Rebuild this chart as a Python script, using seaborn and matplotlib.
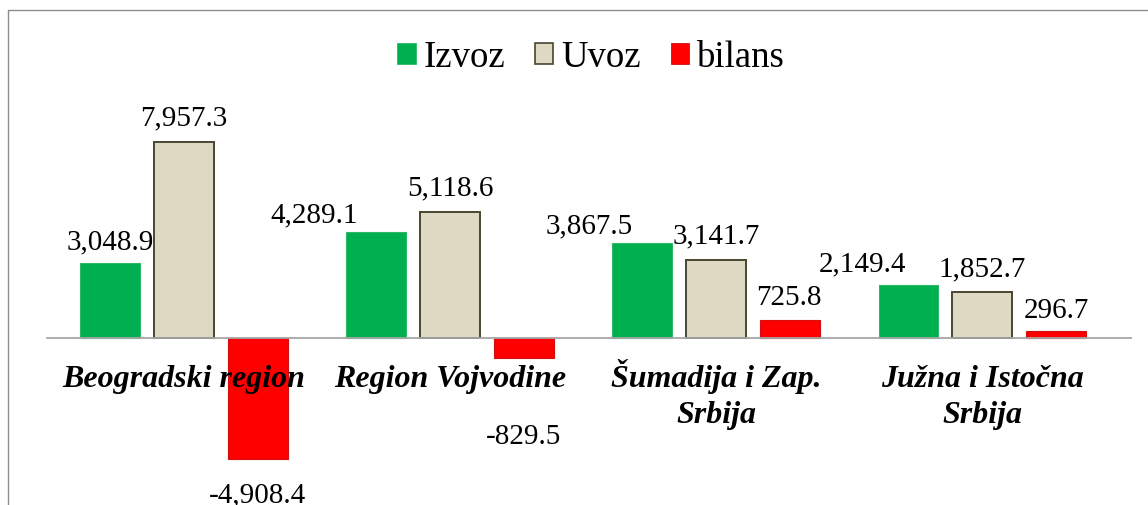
import matplotlib
matplotlib.use("Agg")
import matplotlib.pyplot as plt
import seaborn as sns
import pandas as pd
from matplotlib.patches import Rectangle, Patch
from matplotlib.transforms import offset_copy

# ---- data ----
categories = ["Beogradski region", "Region Vojvodine",
              "Šumadija i Zap.\nSrbija", "Južna i Istočna\nSrbija"]
series = ["Izvoz", "Uvoz", "bilans"]
izvoz = [3048.9, 4289.1, 3867.5, 2149.4]
uvoz = [7957.3, 5118.6, 3141.7, 1852.7]
bilans = [-4908.4, -829.5, 725.8, 296.7]
values = {"Izvoz": izvoz, "Uvoz": uvoz, "bilans": bilans}

# ---- style ----
face = {"Izvoz": "#00B050", "Uvoz": "#DDD9C3", "bilans": "#FF0000"}
edge = {"Izvoz": "#2DB865", "Uvoz": "#4A4530", "bilans": "#D01010"}
# label offsets in pixels (dx, gap) per series, per category
label_dx = {"Izvoz": [0, -62, -53, -46], "Uvoz": [0, 0, 0, 0], "bilans": [0, 0, -1, 0]}
label_gap = {"Izvoz": [14, 11, 10, 15], "Uvoz": [17, 17, 18, 17], "bilans": [22, 65, 16, 14]}

rows = []
for s in series:
    for c, v in zip(categories, values[s]):
        rows.append({"region": c, "serija": s, "vrednost": v})
df = pd.DataFrame(rows)

sns.set_theme(style="white")
plt.rcParams["font.family"] = ["Liberation Serif", "DejaVu Serif"]
plt.rcParams["text.color"] = "black"

W, H = 1148, 506
fig = plt.figure(figsize=(W / 100, H / 100), dpi=100)
ax = fig.add_axes([47 / W, 0, (1131 - 47) / W, 1])

sns.barplot(data=df, x="region", y="vrednost", hue="serija", order=categories,
            hue_order=series, palette=face, width=0.834, gap=0.2, saturation=1,
            errorbar=None, legend=False, ax=ax)

for cont, s in zip(ax.containers, series):
    for p in cont.patches:
        p.set_edgecolor(edge[s])
        p.set_linewidth(1.4 if s == "Uvoz" else 0.8)

# scale
units_per_px = 40.5
zero_px = 339
ax.set_ylim(-(H - zero_px) * units_per_px, zero_px * units_per_px)
ax.set_xlim(-0.515, 3.56)
ax.set_axisbelow(False)

for sp in ["top", "right", "left"]:
    ax.spines[sp].set_visible(False)
ax.spines["bottom"].set_position(("data", 0))
ax.spines["bottom"].set_color("#A6A6A6")
ax.spines["bottom"].set_linewidth(1.3)
ax.set_yticks([])
ax.set_xlabel("")
ax.set_ylabel("")
ax.tick_params(axis="x", length=0, labelbottom=False)

# category labels, drawn line by line below the zero line
for i, cat in enumerate(categories):
    for k, line in enumerate(cat.split("\n")):
        tr = offset_copy(ax.transData, fig=fig, x=0, y=-(47.7 + 36.5 * k), units="dots")
        ax.text(i, 0, line, transform=tr, ha="center", va="baseline", fontsize=23,
                fontweight="bold", fontstyle="italic", color="black", zorder=5)

# value labels
for cont, s in zip(ax.containers, series):
    for i, p in enumerate(cont.patches):
        v = values[s][i]
        xc = p.get_x() + p.get_width() / 2
        txt = f"{v:,.1f}"
        if v >= 0:
            ax.annotate(txt, xy=(xc, v), xytext=(label_dx[s][i], label_gap[s][i]),
                        textcoords="offset pixels", ha="center", va="baseline",
                        fontsize=21, color="black")
        else:
            ax.annotate(txt, xy=(xc, v), xytext=(label_dx[s][i], -label_gap[s][i]),
                        textcoords="offset pixels", ha="center", va="top",
                        fontsize=21, color="black")

handles = [Patch(facecolor=face[s], edgecolor=edge[s], linewidth=1.2 if s == "Uvoz" else 0.6)
           for s in series]
ax.legend(handles, series, loc="center", bbox_to_anchor=(0.502, 1 - 58 / H),
          ncol=3, frameon=False, fontsize=26.5, handlelength=0.5, handleheight=0.5,
          handletextpad=0.22, columnspacing=0.8)

fig.patches.append(Rectangle((8 / W, -0.1), 1.2, 1.1 - 11 / H, transform=fig.transFigure,
                             fill=False, edgecolor="#8C8C8C", linewidth=1.0))

fig.savefig("out.png", dpi=100)
